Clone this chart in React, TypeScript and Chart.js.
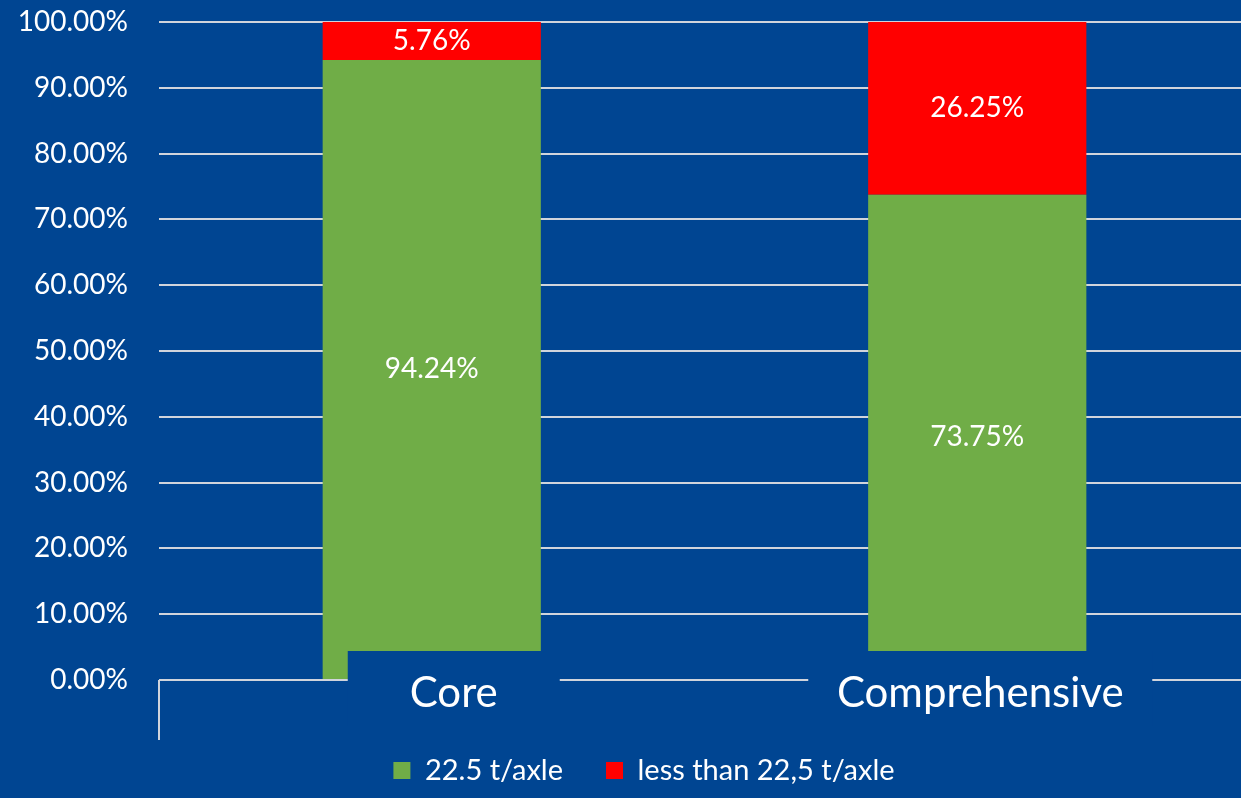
import React, { useEffect, useRef } from "react";
import { Chart, registerables } from "chart.js";

Chart.register(...registerables);

const categories = ["Core", "Comprehensive"];
const seriesNames = ["22.5 t/axle", "less than 22,5 t/axle"];
const heavyAxleShare = [94.24, 73.75];
const lightAxleShare = [5.76, 26.25];
const yTicks = [0, 10, 20, 30, 40, 50, 60, 70, 80, 90, 100];

const BG = "#004592";
const GREEN = "#70AD47";
const RED = "#FF0000";
const GRID = "#D0D4DC";
const FONT = "Lato";

// style of the category label boxes
const labelShift = [22, 3];
const labelBoxHalf = [106, 172];

const overlayPlugin = {
  id: "overlay",
  beforeDraw(chart: any) {
    const ctx = chart.ctx;
    ctx.save();
    ctx.fillStyle = BG;
    ctx.fillRect(0, 0, chart.width, chart.height);
    ctx.restore();
  },
  afterLayout(chart: any) {
    // let right-aligned y labels extend into the left padding without clipping
    chart.scales.y.left = 0;
  },
  afterDatasetsDraw(chart: any) {
    const ctx = chart.ctx;
    const xs = chart.scales.x;
    const area = chart.chartArea;
    ctx.save();
    ctx.fillStyle = "#FFFFFF";
    ctx.font = `28px ${FONT}`;
    ctx.textAlign = "center";
    ctx.textBaseline = "middle";
    chart.data.datasets.forEach((ds: any, di: number) => {
      const meta = chart.getDatasetMeta(di);
      meta.data.forEach((bar: any, i: number) => {
        const v = ds.data[i];
        const y = (bar.y + bar.base) / 2;
        ctx.fillText(v.toFixed(2) + "%", bar.x, y);
      });
    });
    categories.forEach((c, i) => {
      const cx = xs.getPixelForValue(i) + labelShift[i];
      ctx.fillStyle = BG;
      ctx.fillRect(cx - labelBoxHalf[i], area.bottom - 29, labelBoxHalf[i] * 2, 75);
      ctx.fillStyle = "#FFFFFF";
      ctx.font = `42px ${FONT}`;
      ctx.textAlign = "center";
      ctx.textBaseline = "middle";
      ctx.fillText(c, cx, area.bottom + 13);
    });
    ctx.restore();
  },
};

export default function App() {
  const ref = useRef<HTMLCanvasElement>(null);
  useEffect(() => {
    document.body.style.margin = "0";
    document.body.style.overflow = "hidden";
    document.body.style.background = BG;
    const chart = new Chart(ref.current!, {
      type: "bar",
      data: {
        labels: categories,
        datasets: [
          {
            label: seriesNames[0],
            data: heavyAxleShare,
            backgroundColor: GREEN,
            borderWidth: 0,
            barPercentage: 0.4,
            categoryPercentage: 1,
          },
          {
            label: seriesNames[1],
            data: lightAxleShare,
            backgroundColor: RED,
            borderWidth: 0,
            barPercentage: 0.4,
            categoryPercentage: 1,
          },
        ],
      },
      options: {
        responsive: false,
        animation: false,
        devicePixelRatio: 1,
        layout: { padding: { top: 22, left: 38, right: 0, bottom: 3 } },
        plugins: {
          tooltip: { enabled: false },
          legend: {
            position: "bottom",
            labels: {
              color: "#FFFFFF",
              font: { family: FONT, size: 29 },
              boxWidth: 17,
              boxHeight: 17,
              padding: 43,
            },
          },
        },
        scales: {
          x: {
            stacked: true,
            offset: true,
            border: { display: false },
            grid: {
              offset: true,
              drawOnChartArea: false,
              tickLength: 60,
              lineWidth: 2,
              color: (c: any) => (c.index === 0 ? GRID : "transparent"),
            },
            ticks: { color: "transparent", font: { family: FONT, size: 10 }, padding: 0 },
            afterFit: (s: any) => {
              s.height = 33;
              s.paddingLeft = 0;
              s.paddingRight = 0;
            },
          },
          y: {
            stacked: true,
            min: 0,
            max: 100,
            afterBuildTicks: (s: any) => {
              s.ticks = yTicks.map((v) => ({ value: v }));
            },
            afterFit: (s: any) => {
              s.width = 121;
              s.paddingTop = 0;
              s.paddingBottom = 0;
            },
            border: { display: false },
            grid: { color: GRID, lineWidth: 2, drawTicks: false },
            ticks: {
              color: "#FFFFFF",
              font: { family: FONT, size: 28 },
              padding: 31,
              callback: (v: any) => Number(v).toFixed(2) + "%",
            },
          },
        },
      },
      plugins: [overlayPlugin],
    });
    return () => chart.destroy();
  }, []);
  return (
    <div style={{ position: "fixed", left: 0, top: 0, width: 1250, height: 798, background: BG }}>
      <canvas ref={ref} width={1250} height={798} />
    </div>
  );
}
